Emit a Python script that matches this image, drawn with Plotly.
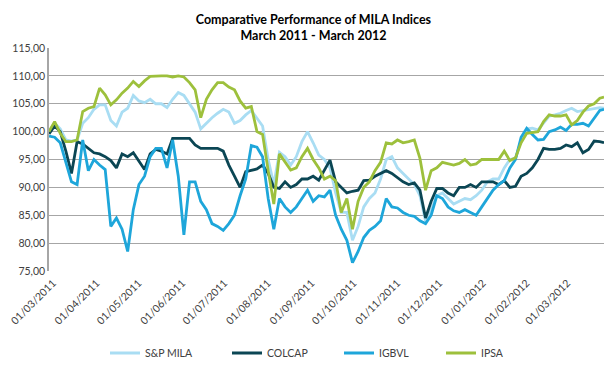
import pandas as pd
import plotly.graph_objects as go

# sample dates (every 4 days from 1 Mar 2011, plus the last day shown)
dates = list(pd.date_range("2011-03-01", periods=99, freq="4D").strftime("%Y-%m-%d")) + ["2012-03-30"]

sp_mila = [100.0, 101.5, 100.5, 98.5, 98.3, 98.5, 101.5, 102.5, 104.0, 104.8,
           104.8, 102.0, 101.0, 103.5, 104.2, 106.5, 105.5, 105.2, 105.8, 105.0,
           105.0, 104.3, 105.8, 107.0, 106.5, 105.0, 103.5, 100.5, 101.5, 102.5,
           103.3, 104.0, 103.5, 101.5, 102.0, 103.0, 103.8, 102.5, 101.0, 95.0,
           90.5, 96.3, 95.5, 94.0, 95.5, 98.2, 100.0, 98.0, 95.8, 95.0,
           93.5, 89.0, 85.5, 85.5, 80.5, 83.0, 86.5, 88.0, 89.0, 91.5,
           95.0, 95.5, 93.5, 92.5, 91.5, 90.5, 88.5, 84.0, 86.0, 88.5,
           89.0, 88.0, 87.0, 87.5, 88.0, 87.8, 88.5, 89.5, 91.0, 91.5,
           91.5, 93.5, 95.0, 95.2, 98.5, 100.5, 100.6, 100.3, 101.5, 102.8,
           103.0, 103.3, 103.8, 104.2, 103.6, 103.8, 104.0, 104.2, 104.3, 104.2]

colcap = [99.6, 101.0, 100.0, 96.5, 92.5, 98.2, 97.8, 97.0, 96.2, 96.0,
          95.5, 94.8, 93.5, 96.0, 95.5, 96.2, 94.8, 93.2, 96.0, 96.8,
          96.5, 96.0, 98.8, 98.8, 98.8, 98.8, 97.6, 97.0, 97.0, 97.0,
          97.0, 96.5, 94.0, 92.0, 90.0, 92.8, 93.0, 93.3, 94.0, 92.5,
          90.0, 89.8, 91.0, 90.0, 90.5, 91.5, 91.5, 92.0, 91.3, 93.0,
          94.9, 91.0, 90.0, 89.0, 89.3, 89.5, 91.2, 91.3, 92.0, 92.5,
          93.0, 92.5, 91.8, 91.0, 90.5, 90.8, 89.5, 84.5, 87.5, 89.8,
          89.8, 89.0, 88.5, 90.0, 90.0, 90.5, 90.0, 91.0, 91.0, 91.0,
          90.5, 91.2, 90.0, 90.2, 92.0, 92.5, 93.5, 95.0, 97.0, 96.8,
          96.8, 97.0, 97.6, 97.3, 98.0, 96.2, 96.8, 98.3, 98.2, 98.0]

igbvl = [99.2, 99.0, 98.0, 94.5, 91.0, 90.5, 98.5, 93.0, 95.0, 94.0,
         93.2, 83.0, 84.5, 82.5, 78.5, 86.0, 90.5, 92.0, 95.5, 97.0,
         97.0, 93.5, 98.5, 92.0, 81.5, 91.0, 91.0, 87.5, 86.0, 83.5,
         83.0, 82.3, 83.5, 85.0, 88.5, 91.5, 97.5, 97.2, 95.5, 88.0,
         82.5, 88.0, 86.5, 85.5, 86.5, 88.0, 89.5, 87.5, 88.5, 88.3,
         89.5, 85.0, 82.5, 80.5, 76.5, 78.5, 81.0, 82.3, 83.0, 84.0,
         88.0, 86.5, 86.3, 85.5, 85.0, 84.8, 84.0, 83.5, 85.0, 88.5,
         88.0, 86.5, 85.8, 85.5, 86.0, 85.5, 85.0, 86.5, 88.0, 89.5,
         90.5, 91.2, 93.5, 95.0, 99.0, 100.6, 99.5, 98.5, 98.6, 100.0,
         100.3, 100.8, 100.2, 101.3, 101.3, 101.5, 101.0, 102.5, 103.8, 104.0]

ipsa = [100.0, 101.8, 99.7, 98.2, 98.2, 98.5, 103.6, 104.2, 104.5, 107.8,
        106.6, 104.8, 105.7, 106.9, 107.8, 109.0, 108.1, 109.1, 109.9, 110.0,
        110.0, 110.0, 109.8, 110.0, 109.8, 108.8, 107.5, 102.5, 105.8, 107.5,
        108.8, 108.8, 108.0, 107.5, 105.5, 104.2, 104.5, 100.0, 99.5, 93.0,
        87.0, 96.0, 94.5, 93.1, 93.5, 95.5, 97.0, 95.0, 93.5, 91.5,
        92.0, 91.2, 85.5, 88.0, 82.5, 87.5, 90.0, 91.0, 93.0, 94.5,
        98.0, 97.8, 98.5, 98.0, 98.2, 98.5, 95.2, 89.5, 93.0, 93.5,
        94.5, 94.2, 94.0, 94.3, 95.0, 94.0, 94.2, 95.0, 95.0, 95.0,
        95.0, 96.5, 94.8, 95.3, 98.0, 99.7, 99.8, 100.0, 101.8, 103.0,
        102.8, 102.8, 103.0, 101.2, 102.0, 103.5, 104.6, 105.0, 106.0, 106.2]

series_names = ["S&P MILA", "COLCAP", "IGBVL", "IPSA"]
series_values = [sp_mila, colcap, igbvl, ipsa]
series_colors = ["#A9DDF3", "#0B4654", "#1EA6DA", "#9DC03C"]

y_ticks = [75, 80, 85, 90, 95, 100, 105, 110, 115]
month_ticks = list(pd.date_range("2011-03-01", "2012-03-01", freq="MS").strftime("%Y-%m-%d"))

FONT = "Lato, 'Open Sans', sans-serif"
legend_ids = ["legend", "legend2", "legend3", "legend4"]
legend_x_px = [110, 232, 344, 446]   # left edge of each legend sample line

fig = go.Figure()
for name, vals, col, lid in zip(series_names, series_values, series_colors, legend_ids):
    fig.add_trace(go.Scatter(x=dates, y=vals, name=name, mode="lines",
                             line=dict(color=col, width=2.8), legend=lid))

legend_layout = {}
for lid, px in zip(legend_ids, legend_x_px):
    legend_layout[lid] = dict(
        orientation="h", x=(px - 5) / 611, xref="container", xanchor="left",
        y=1 - 353 / 377, yref="container", yanchor="middle",
        font=dict(family=FONT, size=10.5, color="#404040"),
        itemwidth=30, bgcolor="rgba(0,0,0,0)")

fig.update_layout(
    width=611, height=377,
    margin=dict(l=49, r=7, t=48, b=106, autoexpand=False),
    paper_bgcolor="white", plot_bgcolor="white",
    separators=",.",
    font=dict(family=FONT, size=10.5, color="#404040"),
    title=dict(text="<b>Comparative Performance of MILA Indices<br>March 2011 - March 2012</b>",
               x=0.513, xref="container", xanchor="center",
               y=1 - 24 / 377, yref="container", yanchor="middle",
               font=dict(family=FONT, size=12.5, color="#000000")),
    showlegend=True,
    xaxis=dict(type="date", range=["2011-03-01", "2012-03-30"], automargin=False,
               tickmode="array", tickvals=month_ticks, tickformat="%d/%m/%Y",
               tickangle=-45, showgrid=False, showline=False, zeroline=False,
               ticks="", ticklabelshift=4, ticklabelstandoff=3,
               tickfont=dict(size=10.5, color="#404040")),
    yaxis=dict(range=[75, 115], tickmode="array", tickvals=y_ticks, tickformat=".2f",
               automargin=False,
               showgrid=True, gridcolor="#A6A6A6", gridwidth=1.2,
               showline=True, linecolor="#A6A6A6", linewidth=1.5,
               zeroline=False, ticks="", ticklen=0,
               tickfont=dict(size=10.5, color="#404040")),
    **legend_layout,
)

fig.write_html("out.html", config={"displayModeBar": False},
               post_script="document.body.style.margin='0px';")
